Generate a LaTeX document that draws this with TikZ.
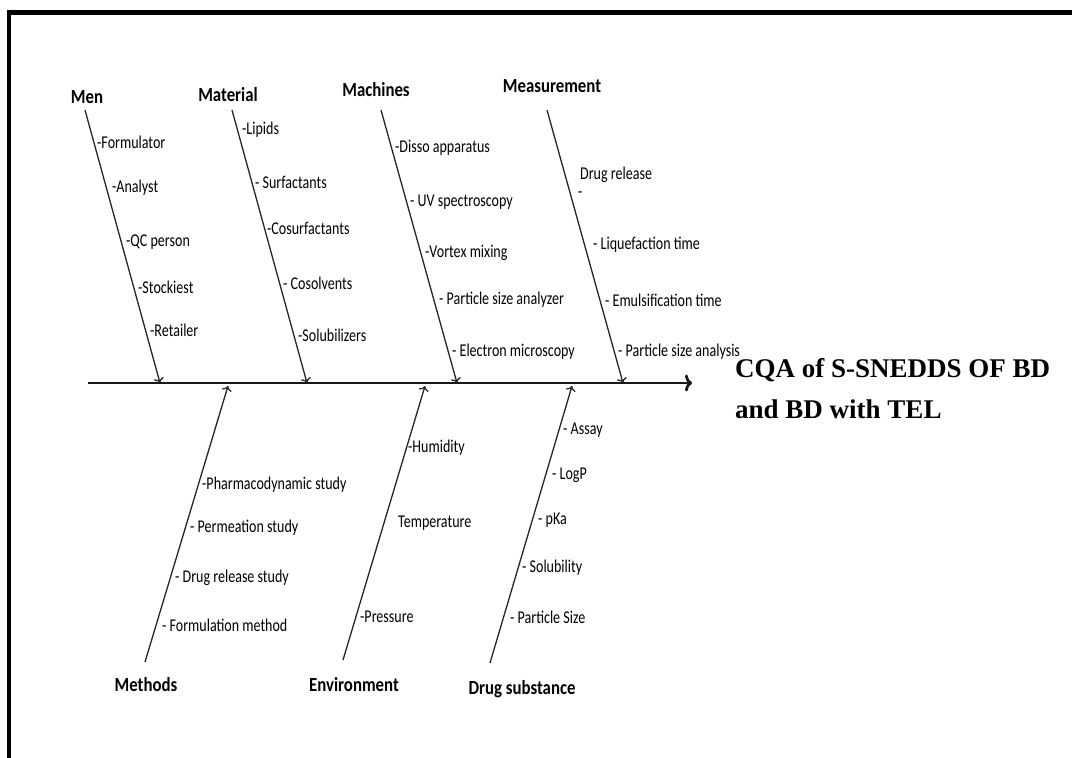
\documentclass[tikz,border=0pt]{standalone}
\usepackage{fontspec}
\usetikzlibrary{arrows.meta}
\setmainfont{Liberation Serif}
\newfontfamily\itemfont[FakeStretch=0.78]{Carlito}
\newfontfamily\headfont[FakeStretch=0.84]{Carlito}
\begin{document}
\begin{tikzpicture}[x=1pt, y=-1pt]
      \tikzset{cause/.style={inner sep=0pt, font=\headfont\bfseries\fontsize{20}{22}\selectfont},
               item/.style={anchor=west, inner sep=0pt, font=\itemfont\fontsize{18}{20}\selectfont},
               bone/.style={-{To[length=5pt, width=10pt]}, line width=1.3pt, black!85},
               spine/.style={-{To[length=7pt, width=17pt]}, line width=2.8pt, black!90}}
      \useasboundingbox (0,0) rectangle (1072,758);
%% Frame
      \draw[line width=4.5pt] (9,758) -- (9,12.5) -- (1072,12.5);
%% Spine and effect
      \coordinate (tail) at (88,383);
      \coordinate (tip) at (692,383);
      \node[anchor=west, align=left, inner sep=0pt, font=\bfseries\fontsize{27}{41}\selectfont] (cqa) at (735,389) {CQA of S-SNEDDS OF BD\\and BD with TEL};
%% Causes
      \node[cause] (men) at (87,97) {Men};
      \node[cause] (material) at (228,95) {Material};
      \node[cause] (machines) at (376,90) {Machines};
      \node[cause] (measurement) at (552,86) {Measurement};
      \node[cause] (methods) at (146,685) {Methods};
      \node[cause] (environment) at (354,685) {Environment};
      \node[cause] (drug) at (522,689) {Drug substance};
%% Bone ends
      \coordinate (menS) at (85,110);         \coordinate (menE) at (160,383);
      \coordinate (materialS) at (232,110);    \coordinate (materialE) at (307,383);
      \coordinate (machinesS) at (381,110);    \coordinate (machinesE) at (457,383);
      \coordinate (measurementS) at (547,110); \coordinate (measurementE) at (623,383);
      \coordinate (methodsS) at (145,662);     \coordinate (methodsE) at (228,386);
      \coordinate (environmentS) at (343,660); \coordinate (environmentE) at (425,386);
      \coordinate (drugS) at (490,663);        \coordinate (drugE) at (572,386);
%% Sub-causes
      \node[item] (men1) at (97,142) {-Formulator};
      \node[item] (men2) at (112,188) {-Analyst};
      \node[item] (men3) at (126,242) {-QC person};
      \node[item] (men4) at (138,287) {-Stockiest};
      \node[item] (men5) at (150,330) {-Retailer};
      \node[item] (material1) at (242,130) {-Lipids};
      \node[item] (material2) at (255,182) {- Surfactants};
      \node[item] (material3) at (267,228) {-Cosurfactants};
      \node[item] (material4) at (283,283) {- Cosolvents};
      \node[item] (material5) at (298,335) {-Solubilizers};
      \node[item] (machines1) at (395,148) {-Disso apparatus};
      \node[item] (machines2) at (410,202) {- UV spectroscopy};
      \node[item] (machines3) at (425,253) {-Vortex mixing};
      \node[item] (machines4) at (439,300) {- Particle size analyzer};
      \node[item] (machines5) at (452,352) {- Electron microscopy};
      \node[item] (measurement1) at (580,175) {Drug release};
      \node[item] (measurement1d) at (578,195) {-};
      \node[item] (measurement2) at (593,245) {- Liquefaction time};
      \node[item] (measurement3) at (605,300) {- Emulsification time};
      \node[item] (measurement4) at (618,352) {- Particle size analysis};
      \node[item] (methods1) at (202,485) {-Pharmacodynamic study};
      \node[item] (methods2) at (190,528) {- Permeation study};
      \node[item] (methods3) at (175,578) {- Drug release study};
      \node[item] (methods4) at (162,625) {- Formulation method};
      \node[item] (environment1) at (408,448) {-Humidity};
      \node[item] (environment2) at (398,523) {Temperature};
      \node[item] (environment3) at (360,617) {-Pressure};
      \node[item] (drug1) at (563,430) {- Assay};
      \node[item] (drug2) at (552,475) {- LogP};
      \node[item] (drug3) at (538,520) {- pKa};
      \node[item] (drug4) at (522,568) {- Solubility};
      \node[item] (drug5) at (510,617) {- Particle Size};
%Edges
      \draw[spine] (tail) -- (tip);
      \draw[bone] (menS) -- (menE);
      \draw[bone] (materialS) -- (materialE);
      \draw[bone] (machinesS) -- (machinesE);
      \draw[bone] (measurementS) -- (measurementE);
      \draw[bone] (methodsS) -- (methodsE);
      \draw[bone] (environmentS) -- (environmentE);
      \draw[bone] (drugS) -- (drugE);
\end{tikzpicture}
\end{document}
